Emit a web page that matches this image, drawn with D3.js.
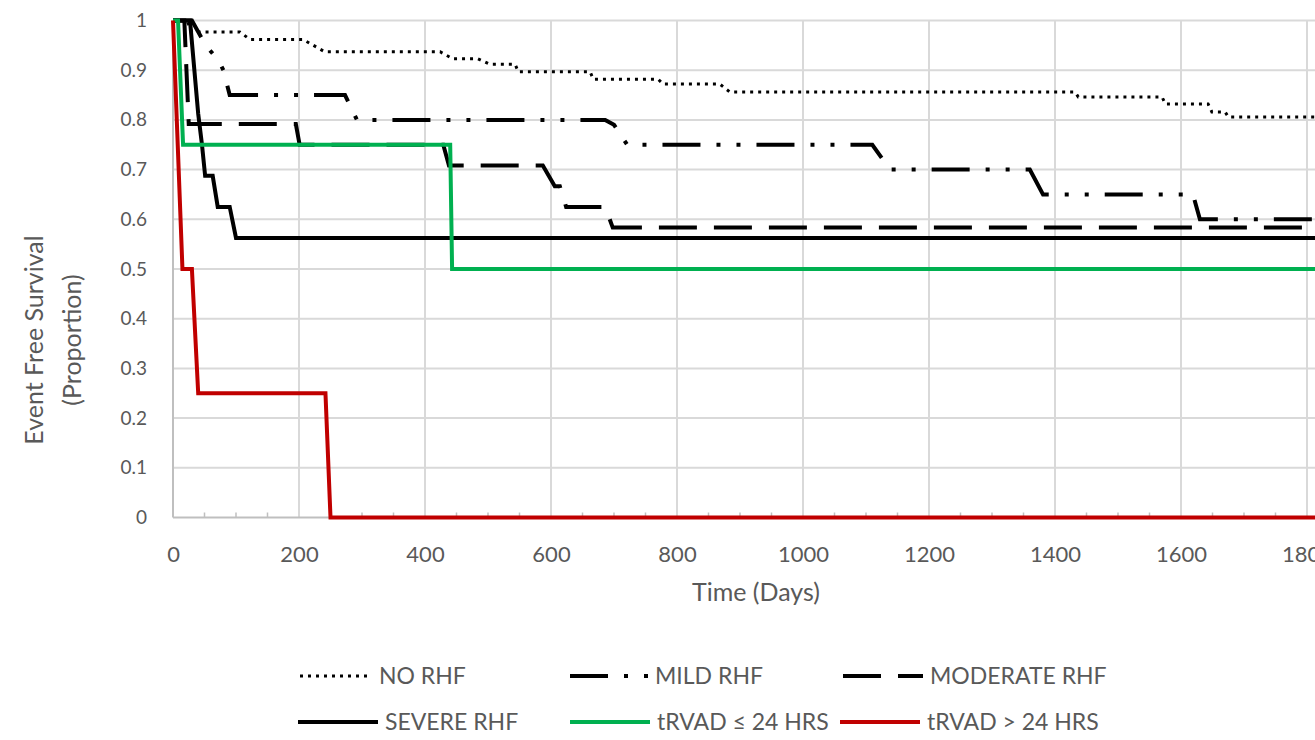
<!DOCTYPE html>
<html>
<head>
<meta charset="utf-8">
<script src="https://cdn.jsdelivr.net/npm/d3@7"></script>
<style>
  html, body { margin: 0; padding: 0; background: #ffffff; overflow: hidden; }
  svg { display: block; }
  text { font-family: Lato, "Open Sans", sans-serif; fill: #595959; }
</style>
</head>
<body>
<svg id="chart" width="1315" height="740"></svg>
<script>
// ---------------- DATA ----------------
const xTickValues = [0, 200, 400, 600, 800, 1000, 1200, 1400, 1600, 1800];
const xTickLabels = ["0", "200", "400", "600", "800", "1000", "1200", "1400", "1600", "1800"];
const yTickValues = [0, 0.1, 0.2, 0.3, 0.4, 0.5, 0.6, 0.7, 0.8, 0.9, 1];
const yTickLabels = ["0", "0.1", "0.2", "0.3", "0.4", "0.5", "0.6", "0.7", "0.8", "0.9", "1"];

const seriesNames = ["NO RHF", "MILD RHF", "MODERATE RHF", "SEVERE RHF", "tRVAD \u2264 24 HRS", "tRVAD > 24 HRS"];

// Kaplan-Meier points (days, proportion)
const noRhfDays = [0, 22, 30, 106, 122, 206, 241, 424, 444, 484, 503, 543, 548, 662, 667, 770, 778, 868, 884, 1432, 1437, 1570, 1575, 1643, 1649, 1670, 1675, 1850];
const noRhfSurv = [1, 1, 0.977, 0.977, 0.962, 0.962, 0.937, 0.937, 0.923, 0.923, 0.912, 0.912, 0.897, 0.897, 0.882, 0.882, 0.872, 0.872, 0.856, 0.856, 0.846, 0.846, 0.832, 0.832, 0.816, 0.816, 0.806, 0.806];

const mildDays = [0, 30, 52, 72, 80, 90, 273, 292, 686, 700, 721, 1110, 1138, 1360, 1381, 1619, 1630, 1850];
const mildSurv = [1, 1, 0.95, 0.92, 0.9, 0.85, 0.85, 0.8, 0.8, 0.79, 0.75, 0.75, 0.7, 0.7, 0.65, 0.65, 0.6, 0.6];

const moderateDays = [0, 18, 25, 195, 201, 429, 438, 587, 606, 614, 624, 686, 698, 1850];
const moderateSurv = [1, 1, 0.7917, 0.7917, 0.75, 0.75, 0.7083, 0.7083, 0.6667, 0.6667, 0.625, 0.625, 0.5833, 0.5833];

const severeDays = [0, 27, 40, 46, 51, 63, 71, 90, 100, 1850];
const severeSurv = [1, 1, 0.8125, 0.75, 0.6875, 0.6875, 0.625, 0.625, 0.5625, 0.5625];

const earlyDays = [0, 8, 16, 440, 443, 1850];
const earlySurv = [1, 1, 0.75, 0.75, 0.5, 0.5];

const lateDays = [0, 15, 30, 40, 242, 250, 1850];
const lateSurv = [1, 0.5, 0.5, 0.25, 0.25, 0, 0];

// ---------------- CHART ----------------
const svg = d3.select("#chart");
const x = d3.scaleLinear().domain([0, 2000]).range([173, 1433]);
const y = d3.scaleLinear().domain([0, 1]).range([517.5, 20.5]);

const series = [
  { name: seriesNames[0], days: noRhfDays, surv: noRhfSurv, color: "#000000", width: 3, dash: "3,5" },
  { name: seriesNames[1], days: mildDays, surv: mildSurv, color: "#000000", width: 4, dash: "38,16,4,16,4,16" },
  { name: seriesNames[2], days: moderateDays, surv: moderateSurv, color: "#000000", width: 4, dash: "38,17" },
  { name: seriesNames[3], days: severeDays, surv: severeSurv, color: "#000000", width: 4, dash: null },
  { name: seriesNames[4], days: earlyDays, surv: earlySurv, color: "#00b050", width: 4, dash: null },
  { name: seriesNames[5], days: lateDays, surv: lateSurv, color: "#c00000", width: 4, dash: null }
];

// gridlines
const grid = svg.append("g");
grid.selectAll("line.h").data(yTickValues.filter(v => v > 0)).join("line")
  .attr("x1", x(0)).attr("x2", 1315)
  .attr("y1", d => y(d)).attr("y2", d => y(d))
  .attr("stroke", "#d9d9d9").attr("stroke-width", 2);
grid.selectAll("line.v").data(xTickValues.filter(v => v > 0)).join("line")
  .attr("x1", d => x(d)).attr("x2", d => x(d))
  .attr("y1", y(1)).attr("y2", y(0))
  .attr("stroke", "#d9d9d9").attr("stroke-width", 2);

// axis lines
svg.append("line").attr("x1", x(0)).attr("x2", 1315).attr("y1", y(0)).attr("y2", y(0))
  .attr("stroke", "#bfbfbf").attr("stroke-width", 2);
svg.append("line").attr("x1", x(0)).attr("x2", x(0)).attr("y1", y(1)).attr("y2", y(0))
  .attr("stroke", "#bfbfbf").attr("stroke-width", 2);

// minor ticks every 50 days
const minorTicks = d3.range(50, 2000, 50).filter(d => d % 200 !== 0);
svg.append("g").selectAll("line").data(minorTicks).join("line")
  .attr("x1", d => x(d)).attr("x2", d => x(d))
  .attr("y1", y(0)).attr("y2", y(0) - 5)
  .attr("stroke", "#bfbfbf").attr("stroke-width", 1.5);

// x axis labels
const xAxis = d3.axisBottom(x).tickValues(xTickValues)
  .tickFormat((d, i) => xTickLabels[i]).tickSize(0).tickPadding(29);
const gx = svg.append("g").attr("transform", `translate(0,${y(0)})`).call(xAxis);
gx.select(".domain").remove();
gx.selectAll("text").attr("font-size", 22).style("font-family", "Lato, sans-serif").attr("fill", "#595959");

// y axis labels
const yAxis = d3.axisLeft(y).tickValues(yTickValues)
  .tickFormat((d, i) => yTickLabels[i]).tickSize(0).tickPadding(26);
const gy = svg.append("g").attr("transform", `translate(${x(0)},0)`).call(yAxis);
gy.select(".domain").remove();
gy.selectAll("text").attr("font-size", 19).style("font-family", "Lato, sans-serif").attr("fill", "#595959");

// axis titles
svg.append("text").attr("x", 756).attr("y", 601).attr("text-anchor", "middle")
  .attr("font-size", 25).text("Time (Days)");
const yt = svg.append("text").attr("transform", "translate(43,340) rotate(-90)")
  .attr("text-anchor", "middle").attr("font-size", 25);
yt.append("tspan").attr("x", 0).attr("y", 0).text("Event Free Survival");
yt.append("tspan").attr("x", 0).attr("y", 38).text("(Proportion)");

// series lines
const line = d3.line().x(d => x(d[0])).y(d => y(d[1])).curve(d3.curveLinear);
const plot = svg.append("g");
series.forEach(s => {
  const pts = s.days.map((d, i) => [d, s.surv[i]]);
  plot.append("path").datum(pts)
    .attr("d", line)
    .attr("fill", "none")
    .attr("stroke", s.color)
    .attr("stroke-width", s.width)
    .attr("stroke-linejoin", "miter")
    .attr("stroke-dasharray", s.dash);
});

// legend
const legendPos = [
  { lx: 300, ly: 676, len: 72 },
  { lx: 570, ly: 676, len: 78 },
  { lx: 843, ly: 676, len: 80 },
  { lx: 298, ly: 722, len: 80 },
  { lx: 570, ly: 722, len: 80 },
  { lx: 840, ly: 722, len: 80 }
];
const lg = svg.append("g");
series.forEach((s, i) => {
  const p = legendPos[i];
  lg.append("line").attr("x1", p.lx).attr("x2", p.lx + p.len)
    .attr("y1", p.ly).attr("y2", p.ly)
    .attr("stroke", s.color).attr("stroke-width", s.width)
    .attr("stroke-dasharray", s.dash);
  lg.append("text").attr("x", p.lx + p.len + 7).attr("y", p.ly + 8)
    .attr("font-size", 23).text(s.name);
});
</script>
</body>
</html>
